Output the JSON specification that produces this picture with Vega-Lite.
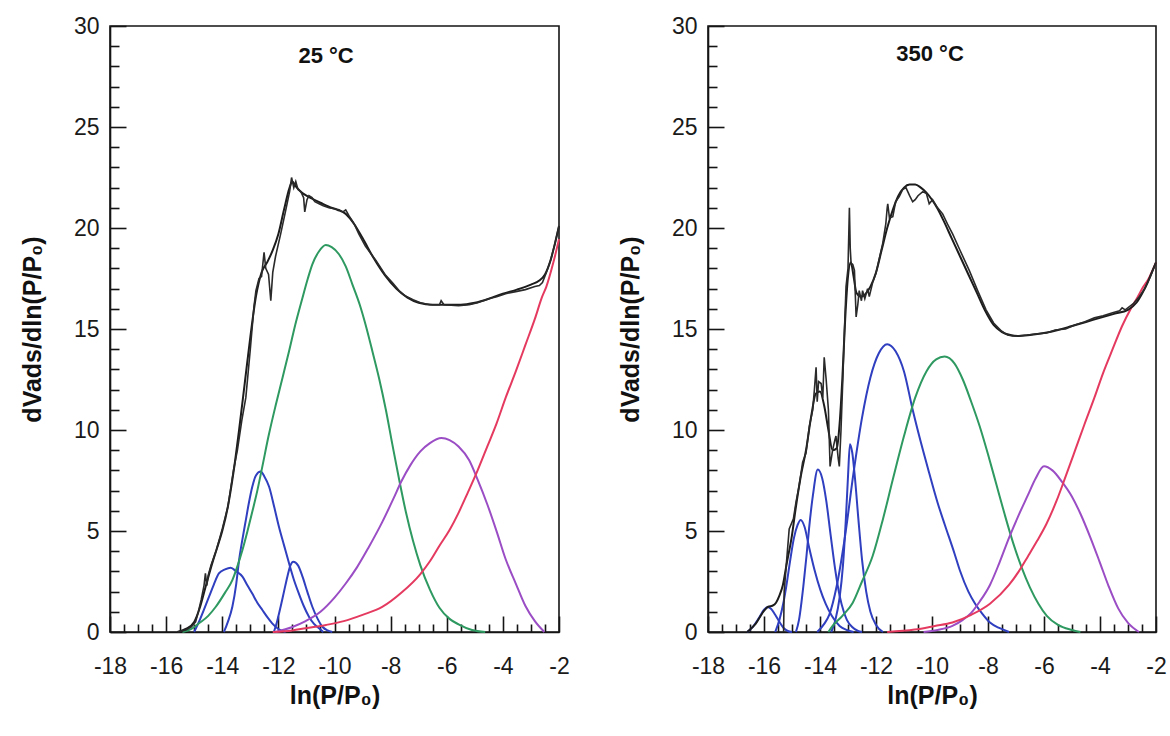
{
  "$schema": "https://vega.github.io/schema/vega-lite/v6.json",
  "background": "white",
  "padding": {"left": 19, "top": 14, "right": 5, "bottom": 5},
  "spacing": 46,
  "config": {
    "view": {"stroke": "#151515", "strokeWidth": 1.6},
    "axis": {
      "grid": false,
      "zindex": 1,
      "domainColor": "#151515",
      "domainWidth": 1.6,
      "tickColor": "#151515",
      "tickWidth": 1.6,
      "labelFont": "Liberation Sans",
      "labelFontSize": 23,
      "labelColor": "#1a1a1a",
      "titleFont": "Liberation Sans",
      "titleFontWeight": "bold",
      "titleFontSize": 25,
      "titleColor": "#111111"
    }
  },
  "hconcat": [
    {
      "width": 449,
      "height": 606,
      "resolve": {"axis": {"x": "independent", "y": "independent"}},
      "data": {"values": [
        {"s":"label","t":"25 °C","x":-10.3,"y":28.5},
        {"s":"exp","x":-15.6,"y":0},{"s":"exp","x":-15.3,"y":0.1},{"s":"exp","x":-15.1,"y":0.25},{"s":"exp","x":-14.95,"y":0.5},{"s":"exp","x":-14.85,"y":1.0},{"s":"exp","x":-14.75,"y":1.6},{"s":"exp","x":-14.65,"y":2.3},{"s":"exp","x":-14.6,"y":2.9},{"s":"exp","x":-14.55,"y":2.3},{"s":"exp","x":-14.5,"y":2.8},{"s":"exp","x":-14.4,"y":3.3},{"s":"exp","x":-14.2,"y":4.1},{"s":"exp","x":-14.0,"y":5.1},{"s":"exp","x":-13.8,"y":6.2},{"s":"exp","x":-13.6,"y":8.0},{"s":"exp","x":-13.46,"y":9.0},{"s":"exp","x":-13.3,"y":10.5},{"s":"exp","x":-13.16,"y":11.6},{"s":"exp","x":-13.0,"y":14.0},{"s":"exp","x":-12.87,"y":16.1},{"s":"exp","x":-12.8,"y":16.9},{"s":"exp","x":-12.69,"y":17.5},{"s":"exp","x":-12.6,"y":17.6},{"s":"exp","x":-12.51,"y":18.8},{"s":"exp","x":-12.45,"y":18.0},{"s":"exp","x":-12.35,"y":17.7},{"s":"exp","x":-12.27,"y":16.4},{"s":"exp","x":-12.2,"y":17.8},{"s":"exp","x":-12.1,"y":18.6},{"s":"exp","x":-11.92,"y":19.7},{"s":"exp","x":-11.75,"y":20.8},{"s":"exp","x":-11.6,"y":21.8},{"s":"exp","x":-11.53,"y":22.5},{"s":"exp","x":-11.45,"y":22.0},{"s":"exp","x":-11.38,"y":22.3},{"s":"exp","x":-11.3,"y":21.9},{"s":"exp","x":-11.2,"y":21.8},{"s":"exp","x":-11.1,"y":21.5},{"s":"exp","x":-11.06,"y":20.8},{"s":"exp","x":-10.98,"y":21.4},{"s":"exp","x":-10.91,"y":21.6},{"s":"exp","x":-10.8,"y":21.5},{"s":"exp","x":-10.7,"y":21.3},{"s":"exp","x":-10.55,"y":21.2},{"s":"exp","x":-10.4,"y":21.1},{"s":"exp","x":-10.2,"y":21.0},{"s":"exp","x":-10.0,"y":20.95},{"s":"exp","x":-9.84,"y":20.9},{"s":"exp","x":-9.7,"y":20.8},{"s":"exp","x":-9.6,"y":20.9},{"s":"exp","x":-9.48,"y":20.6},{"s":"exp","x":-9.3,"y":20.2},{"s":"exp","x":-9.13,"y":19.7},{"s":"exp","x":-8.9,"y":19.1},{"s":"exp","x":-8.53,"y":18.4},{"s":"exp","x":-8.2,"y":17.7},{"s":"exp","x":-7.94,"y":17.3},{"s":"exp","x":-7.7,"y":16.9},{"s":"exp","x":-7.49,"y":16.65},{"s":"exp","x":-7.2,"y":16.45},{"s":"exp","x":-6.94,"y":16.3},{"s":"exp","x":-6.6,"y":16.2},{"s":"exp","x":-6.26,"y":16.2},{"s":"exp","x":-6.2,"y":16.4},{"s":"exp","x":-6.1,"y":16.2},{"s":"exp","x":-5.58,"y":16.15},{"s":"exp","x":-5.2,"y":16.2},{"s":"exp","x":-4.9,"y":16.3},{"s":"exp","x":-4.5,"y":16.5},{"s":"exp","x":-4.22,"y":16.6},{"s":"exp","x":-3.9,"y":16.75},{"s":"exp","x":-3.54,"y":16.85},{"s":"exp","x":-3.2,"y":16.95},{"s":"exp","x":-2.86,"y":17.1},{"s":"exp","x":-2.7,"y":17.15},{"s":"exp","x":-2.59,"y":17.3},{"s":"exp","x":-2.45,"y":17.8},{"s":"exp","x":-2.3,"y":18.4},{"s":"exp","x":-2.15,"y":19.2},{"s":"exp","x":-2.0,"y":20.1},
        {"s":"fit","x":-15.6,"y":0},{"s":"fit","x":-15.3,"y":0.15},{"s":"fit","x":-15.0,"y":0.5},{"s":"fit","x":-14.8,"y":1.2},{"s":"fit","x":-14.6,"y":2.2},{"s":"fit","x":-14.4,"y":3.2},{"s":"fit","x":-14.2,"y":4.1},{"s":"fit","x":-14.0,"y":5.0},{"s":"fit","x":-13.8,"y":6.2},{"s":"fit","x":-13.6,"y":7.9},{"s":"fit","x":-13.4,"y":10.0},{"s":"fit","x":-13.2,"y":12.3},{"s":"fit","x":-13.0,"y":14.6},{"s":"fit","x":-12.8,"y":16.6},{"s":"fit","x":-12.6,"y":17.8},{"s":"fit","x":-12.4,"y":18.3},{"s":"fit","x":-12.2,"y":18.9},{"s":"fit","x":-12.0,"y":19.7},{"s":"fit","x":-11.8,"y":20.9},{"s":"fit","x":-11.6,"y":22.0},{"s":"fit","x":-11.5,"y":22.3},{"s":"fit","x":-11.4,"y":22.1},{"s":"fit","x":-11.2,"y":21.8},{"s":"fit","x":-11.0,"y":21.6},{"s":"fit","x":-10.8,"y":21.45},{"s":"fit","x":-10.5,"y":21.25},{"s":"fit","x":-10.2,"y":21.05},{"s":"fit","x":-9.9,"y":20.9},{"s":"fit","x":-9.6,"y":20.7},{"s":"fit","x":-9.3,"y":20.2},{"s":"fit","x":-9.0,"y":19.5},{"s":"fit","x":-8.6,"y":18.5},{"s":"fit","x":-8.2,"y":17.65},{"s":"fit","x":-7.8,"y":17.0},{"s":"fit","x":-7.4,"y":16.55},{"s":"fit","x":-7.0,"y":16.3},{"s":"fit","x":-6.5,"y":16.2},{"s":"fit","x":-6.0,"y":16.2},{"s":"fit","x":-5.5,"y":16.2},{"s":"fit","x":-5.0,"y":16.3},{"s":"fit","x":-4.5,"y":16.5},{"s":"fit","x":-4.0,"y":16.75},{"s":"fit","x":-3.5,"y":16.95},{"s":"fit","x":-3.0,"y":17.2},{"s":"fit","x":-2.7,"y":17.4},{"s":"fit","x":-2.5,"y":17.7},{"s":"fit","x":-2.3,"y":18.4},{"s":"fit","x":-2.15,"y":19.2},{"s":"fit","x":-2.0,"y":20.1},
        {"s":"b1","x":-15.0,"y":0},{"s":"b1","x":-14.8,"y":0.6},{"s":"b1","x":-14.47,"y":1.75},{"s":"b1","x":-14.3,"y":2.35},{"s":"b1","x":-14.12,"y":2.9},{"s":"b1","x":-13.9,"y":3.1},{"s":"b1","x":-13.7,"y":3.18},{"s":"b1","x":-13.5,"y":3.0},{"s":"b1","x":-13.28,"y":2.74},{"s":"b1","x":-13.1,"y":2.3},{"s":"b1","x":-12.93,"y":1.9},{"s":"b1","x":-12.75,"y":1.45},{"s":"b1","x":-12.57,"y":1.09},{"s":"b1","x":-12.4,"y":0.75},{"s":"b1","x":-12.22,"y":0.43},{"s":"b1","x":-12.0,"y":0.15},{"s":"b1","x":-11.74,"y":0},
        {"s":"b2","x":-13.94,"y":0},{"s":"b2","x":-13.8,"y":0.5},{"s":"b2","x":-13.64,"y":1.25},{"s":"b2","x":-13.5,"y":2.4},{"s":"b2","x":-13.4,"y":3.56},{"s":"b2","x":-13.28,"y":4.6},{"s":"b2","x":-13.16,"y":5.54},{"s":"b2","x":-13.05,"y":6.4},{"s":"b2","x":-12.93,"y":7.19},{"s":"b2","x":-12.8,"y":7.75},{"s":"b2","x":-12.63,"y":7.94},{"s":"b2","x":-12.5,"y":7.7},{"s":"b2","x":-12.33,"y":7.19},{"s":"b2","x":-12.15,"y":6.2},{"s":"b2","x":-11.98,"y":5.21},{"s":"b2","x":-11.8,"y":4.3},{"s":"b2","x":-11.62,"y":3.4},{"s":"b2","x":-11.45,"y":2.6},{"s":"b2","x":-11.27,"y":1.9},{"s":"b2","x":-11.1,"y":1.3},{"s":"b2","x":-10.91,"y":0.76},{"s":"b2","x":-10.73,"y":0.4},{"s":"b2","x":-10.55,"y":0.18},{"s":"b2","x":-10.4,"y":0},
        {"s":"b3","x":-12.16,"y":0},{"s":"b3","x":-12.05,"y":0.5},{"s":"b3","x":-11.92,"y":1.25},{"s":"b3","x":-11.8,"y":2.0},{"s":"b3","x":-11.68,"y":2.74},{"s":"b3","x":-11.57,"y":3.3},{"s":"b3","x":-11.47,"y":3.48},{"s":"b3","x":-11.3,"y":3.3},{"s":"b3","x":-11.14,"y":2.74},{"s":"b3","x":-10.97,"y":2.0},{"s":"b3","x":-10.79,"y":1.25},{"s":"b3","x":-10.6,"y":0.65},{"s":"b3","x":-10.43,"y":0.26},{"s":"b3","x":-10.25,"y":0.08},{"s":"b3","x":-10.08,"y":0},
        {"s":"green","x":-15.42,"y":0},{"s":"green","x":-15.1,"y":0.15},{"s":"green","x":-14.83,"y":0.43},{"s":"green","x":-14.5,"y":0.8},{"s":"green","x":-14.23,"y":1.25},{"s":"green","x":-13.9,"y":1.95},{"s":"green","x":-13.64,"y":2.57},{"s":"green","x":-13.45,"y":3.3},{"s":"green","x":-13.28,"y":4.06},{"s":"green","x":-13.1,"y":5.0},{"s":"green","x":-12.93,"y":5.95},{"s":"green","x":-12.75,"y":7.0},{"s":"green","x":-12.57,"y":8.2},{"s":"green","x":-12.35,"y":9.7},{"s":"green","x":-12.1,"y":11.2},{"s":"green","x":-11.85,"y":12.6},{"s":"green","x":-11.62,"y":13.9},{"s":"green","x":-11.4,"y":15.2},{"s":"green","x":-11.15,"y":16.5},{"s":"green","x":-10.95,"y":17.5},{"s":"green","x":-10.79,"y":18.2},{"s":"green","x":-10.55,"y":18.85},{"s":"green","x":-10.31,"y":19.16},{"s":"green","x":-10.1,"y":19.05},{"s":"green","x":-9.84,"y":18.7},{"s":"green","x":-9.6,"y":18.1},{"s":"green","x":-9.36,"y":17.2},{"s":"green","x":-9.1,"y":16.2},{"s":"green","x":-8.89,"y":15.2},{"s":"green","x":-8.65,"y":13.9},{"s":"green","x":-8.41,"y":12.55},{"s":"green","x":-8.17,"y":11.0},{"s":"green","x":-7.94,"y":9.3},{"s":"green","x":-7.69,"y":7.5},{"s":"green","x":-7.45,"y":5.9},{"s":"green","x":-7.2,"y":4.5},{"s":"green","x":-6.94,"y":3.3},{"s":"green","x":-6.6,"y":2.1},{"s":"green","x":-6.26,"y":1.2},{"s":"green","x":-5.9,"y":0.65},{"s":"green","x":-5.58,"y":0.38},{"s":"green","x":-5.1,"y":0.1},{"s":"green","x":-4.63,"y":0},
        {"s":"purple","x":-12.1,"y":0},{"s":"purple","x":-11.5,"y":0.25},{"s":"purple","x":-11.03,"y":0.54},{"s":"purple","x":-10.5,"y":1.0},{"s":"purple","x":-10.0,"y":1.7},{"s":"purple","x":-9.6,"y":2.4},{"s":"purple","x":-9.2,"y":3.2},{"s":"purple","x":-8.8,"y":4.15},{"s":"purple","x":-8.3,"y":5.44},{"s":"purple","x":-7.9,"y":6.6},{"s":"purple","x":-7.62,"y":7.45},{"s":"purple","x":-7.3,"y":8.25},{"s":"purple","x":-6.94,"y":8.94},{"s":"purple","x":-6.6,"y":9.35},{"s":"purple","x":-6.19,"y":9.6},{"s":"purple","x":-5.9,"y":9.5},{"s":"purple","x":-5.58,"y":9.18},{"s":"purple","x":-5.2,"y":8.5},{"s":"purple","x":-4.9,"y":7.54},{"s":"purple","x":-4.55,"y":6.3},{"s":"purple","x":-4.22,"y":4.97},{"s":"purple","x":-3.9,"y":3.6},{"s":"purple","x":-3.54,"y":2.4},{"s":"purple","x":-3.2,"y":1.3},{"s":"purple","x":-2.86,"y":0.54},{"s":"purple","x":-2.52,"y":0},
        {"s":"red","x":-12.2,"y":0},{"s":"red","x":-11.5,"y":0.08},{"s":"red","x":-11.03,"y":0.19},{"s":"red","x":-10.3,"y":0.35},{"s":"red","x":-9.67,"y":0.54},{"s":"red","x":-9.0,"y":0.85},{"s":"red","x":-8.3,"y":1.24},{"s":"red","x":-7.62,"y":1.94},{"s":"red","x":-6.94,"y":2.87},{"s":"red","x":-6.6,"y":3.5},{"s":"red","x":-6.26,"y":4.27},{"s":"red","x":-5.9,"y":5.05},{"s":"red","x":-5.58,"y":5.9},{"s":"red","x":-5.25,"y":6.9},{"s":"red","x":-4.9,"y":8.0},{"s":"red","x":-4.55,"y":9.2},{"s":"red","x":-4.22,"y":10.34},{"s":"red","x":-3.9,"y":11.6},{"s":"red","x":-3.54,"y":12.9},{"s":"red","x":-3.2,"y":14.2},{"s":"red","x":-2.86,"y":15.5},{"s":"red","x":-2.6,"y":16.6},{"s":"red","x":-2.45,"y":17.1},{"s":"red","x":-2.2,"y":18.3},{"s":"red","x":-2.0,"y":19.45}
      ]},
      "layer": [
        {"transform": [{"filter": "indexof(['b1','b2','b3','b4','b5','green','purple','red'], datum.s) >= 0"}],
         "mark": {"type": "line", "strokeWidth": 2, "interpolate": "monotone"},
         "encoding": {
           "x": {"field": "x", "type": "quantitative", "scale": {"domain": [-18, -2], "nice": false, "zero": false},
             "axis": {"orient": "bottom", "title": "ln(P/P₀)", "values": [-18,-16,-14,-12,-10,-8,-6,-4,-2], "labelExpr": "'-' + abs(datum.value)", "tickSize": -16, "labelPadding": 39, "titlePadding": 5, "labelFlush": false}},
           "y": {"field": "y", "type": "quantitative", "scale": {"domain": [0, 30], "nice": false},
             "axis": {"orient": "left", "title": "dVads/dln(P/P₀)", "values": [0,5,10,15,20,25,30], "tickSize": -16, "labelPadding": 27, "titlePadding": 28, "labelFlush": false}},
           "color": {"field": "s", "type": "nominal", "legend": null,
             "scale": {"domain": ["b1","b2","b3","b4","b5","green","purple","red"], "range": ["#2f3fbf","#2f3fbf","#2f3fbf","#2f3fbf","#2f3fbf","#2e9960","#9a4dc4","#e53a60"]}}}},
        {"transform": [{"filter": "datum.s === 'fit'"}],
         "mark": {"type": "line", "strokeWidth": 2, "color": "#1c1c1c", "interpolate": "monotone"},
         "encoding": {
           "x": {"field": "x", "type": "quantitative",
             "axis": {"orient": "bottom", "title": null, "labels": false, "domain": false, "values": [-17.5,-17,-16.5,-15.5,-15,-14.5,-13.5,-13,-12.5,-11.5,-11,-10.5,-9.5,-9,-8.5,-7.5,-7,-6.5,-5.5,-5,-4.5,-3.5,-3,-2.5], "tickSize": -8}},
           "y": {"field": "y", "type": "quantitative",
             "axis": {"orient": "left", "title": null, "labels": false, "domain": false, "values": [1,2,3,4,6,7,8,9,11,12,13,14,16,17,18,19,21,22,23,24,26,27,28,29], "tickSize": -9}}}},
        {"transform": [{"filter": "datum.s === 'exp'"}],
         "mark": {"type": "line", "strokeWidth": 1.6, "color": "#2a2a2a"},
         "encoding": {"x": {"field": "x", "type": "quantitative", "axis": null}, "y": {"field": "y", "type": "quantitative", "axis": null}}},
        {"transform": [{"filter": "datum.s === 'label'"}],
         "mark": {"type": "text", "font": "Liberation Sans", "fontWeight": "bold", "fontSize": 22, "color": "#111111"},
         "encoding": {"x": {"field": "x", "type": "quantitative", "axis": null}, "y": {"field": "y", "type": "quantitative", "axis": null}, "text": {"field": "t"}}}
      ]
    },
    {
      "width": 448,
      "height": 606,
      "resolve": {"axis": {"x": "independent", "y": "independent"}},
      "data": {"values": [
        {"s":"label","t":"350 °C","x":-10.07,"y":28.6},
        {"s":"exp","x":-15.3,"y":0},{"s":"exp","x":-15.28,"y":2.0},{"s":"exp","x":-15.2,"y":3.4},{"s":"exp","x":-15.1,"y":5.1},{"s":"exp","x":-14.95,"y":5.6},{"s":"exp","x":-14.86,"y":6.4},{"s":"exp","x":-14.75,"y":7.2},{"s":"exp","x":-14.62,"y":8.4},{"s":"exp","x":-14.5,"y":8.86},{"s":"exp","x":-14.38,"y":10.18},{"s":"exp","x":-14.26,"y":11.0},{"s":"exp","x":-14.2,"y":12.0},{"s":"exp","x":-14.14,"y":13.1},{"s":"exp","x":-14.1,"y":11.4},{"s":"exp","x":-14.05,"y":12.4},{"s":"exp","x":-13.96,"y":12.3},{"s":"exp","x":-13.9,"y":11.6},{"s":"exp","x":-13.85,"y":13.6},{"s":"exp","x":-13.78,"y":12.5},{"s":"exp","x":-13.7,"y":11.0},{"s":"exp","x":-13.64,"y":8.2},{"s":"exp","x":-13.55,"y":9.0},{"s":"exp","x":-13.47,"y":9.5},{"s":"exp","x":-13.43,"y":9.7},{"s":"exp","x":-13.35,"y":8.6},{"s":"exp","x":-13.31,"y":8.2},{"s":"exp","x":-13.25,"y":10.0},{"s":"exp","x":-13.19,"y":12.3},{"s":"exp","x":-13.13,"y":14.8},{"s":"exp","x":-13.07,"y":17.1},{"s":"exp","x":-13.0,"y":18.0},{"s":"exp","x":-12.95,"y":21.0},{"s":"exp","x":-12.92,"y":19.0},{"s":"exp","x":-12.89,"y":18.26},{"s":"exp","x":-12.83,"y":18.2},{"s":"exp","x":-12.77,"y":17.9},{"s":"exp","x":-12.71,"y":15.6},{"s":"exp","x":-12.65,"y":16.2},{"s":"exp","x":-12.6,"y":16.9},{"s":"exp","x":-12.52,"y":16.4},{"s":"exp","x":-12.48,"y":16.9},{"s":"exp","x":-12.4,"y":16.5},{"s":"exp","x":-12.3,"y":17.0},{"s":"exp","x":-12.24,"y":16.6},{"s":"exp","x":-12.12,"y":17.3},{"s":"exp","x":-12.0,"y":17.76},{"s":"exp","x":-11.88,"y":18.5},{"s":"exp","x":-11.76,"y":19.24},{"s":"exp","x":-11.65,"y":20.2},{"s":"exp","x":-11.6,"y":21.0},{"s":"exp","x":-11.58,"y":21.2},{"s":"exp","x":-11.52,"y":20.5},{"s":"exp","x":-11.4,"y":20.56},{"s":"exp","x":-11.3,"y":21.3},{"s":"exp","x":-11.17,"y":21.55},{"s":"exp","x":-11.05,"y":21.9},{"s":"exp","x":-10.93,"y":22.0},{"s":"exp","x":-10.8,"y":21.6},{"s":"exp","x":-10.69,"y":21.3},{"s":"exp","x":-10.6,"y":21.4},{"s":"exp","x":-10.5,"y":21.6},{"s":"exp","x":-10.33,"y":21.8},{"s":"exp","x":-10.2,"y":21.7},{"s":"exp","x":-10.1,"y":21.2},{"s":"exp","x":-9.98,"y":21.4},{"s":"exp","x":-9.8,"y":21.0},{"s":"exp","x":-9.62,"y":20.7},{"s":"exp","x":-9.45,"y":20.2},{"s":"exp","x":-9.26,"y":19.7},{"s":"exp","x":-9.0,"y":18.9},{"s":"exp","x":-8.67,"y":17.9},{"s":"exp","x":-8.37,"y":16.9},{"s":"exp","x":-8.07,"y":15.95},{"s":"exp","x":-7.8,"y":15.3},{"s":"exp","x":-7.52,"y":14.9},{"s":"exp","x":-7.3,"y":14.7},{"s":"exp","x":-7.12,"y":14.65},{"s":"exp","x":-6.98,"y":14.65},{"s":"exp","x":-6.6,"y":14.7},{"s":"exp","x":-6.3,"y":14.75},{"s":"exp","x":-5.91,"y":14.8},{"s":"exp","x":-5.6,"y":14.95},{"s":"exp","x":-5.23,"y":15.0},{"s":"exp","x":-4.9,"y":15.2},{"s":"exp","x":-4.56,"y":15.35},{"s":"exp","x":-4.2,"y":15.55},{"s":"exp","x":-3.89,"y":15.65},{"s":"exp","x":-3.55,"y":15.8},{"s":"exp","x":-3.3,"y":15.9},{"s":"exp","x":-3.21,"y":16.05},{"s":"exp","x":-3.1,"y":15.95},{"s":"exp","x":-2.81,"y":16.25},{"s":"exp","x":-2.6,"y":16.6},{"s":"exp","x":-2.4,"y":17.0},{"s":"exp","x":-2.2,"y":17.6},{"s":"exp","x":-2.0,"y":18.3},
        {"s":"fit","x":-16.6,"y":0},{"s":"fit","x":-16.3,"y":0.4},{"s":"fit","x":-16.0,"y":1.05},{"s":"fit","x":-15.85,"y":1.25},{"s":"fit","x":-15.7,"y":1.3},{"s":"fit","x":-15.57,"y":1.45},{"s":"fit","x":-15.45,"y":1.8},{"s":"fit","x":-15.33,"y":2.3},{"s":"fit","x":-15.2,"y":3.3},{"s":"fit","x":-15.0,"y":4.8},{"s":"fit","x":-14.86,"y":6.2},{"s":"fit","x":-14.7,"y":7.6},{"s":"fit","x":-14.5,"y":9.0},{"s":"fit","x":-14.3,"y":10.8},{"s":"fit","x":-14.15,"y":11.8},{"s":"fit","x":-14.0,"y":11.9},{"s":"fit","x":-13.85,"y":11.2},{"s":"fit","x":-13.7,"y":10.0},{"s":"fit","x":-13.55,"y":9.0},{"s":"fit","x":-13.4,"y":9.1},{"s":"fit","x":-13.3,"y":10.3},{"s":"fit","x":-13.2,"y":12.6},{"s":"fit","x":-13.1,"y":15.5},{"s":"fit","x":-13.0,"y":17.6},{"s":"fit","x":-12.9,"y":18.3},{"s":"fit","x":-12.8,"y":17.6},{"s":"fit","x":-12.7,"y":16.8},{"s":"fit","x":-12.55,"y":16.6},{"s":"fit","x":-12.4,"y":16.7},{"s":"fit","x":-12.2,"y":17.1},{"s":"fit","x":-12.0,"y":17.8},{"s":"fit","x":-11.8,"y":18.9},{"s":"fit","x":-11.6,"y":20.0},{"s":"fit","x":-11.4,"y":20.9},{"s":"fit","x":-11.2,"y":21.6},{"s":"fit","x":-11.0,"y":22.0},{"s":"fit","x":-10.8,"y":22.15},{"s":"fit","x":-10.6,"y":22.15},{"s":"fit","x":-10.4,"y":22.0},{"s":"fit","x":-10.2,"y":21.75},{"s":"fit","x":-10.0,"y":21.4},{"s":"fit","x":-9.8,"y":20.95},{"s":"fit","x":-9.6,"y":20.4},{"s":"fit","x":-9.3,"y":19.5},{"s":"fit","x":-9.0,"y":18.6},{"s":"fit","x":-8.7,"y":17.7},{"s":"fit","x":-8.4,"y":16.8},{"s":"fit","x":-8.1,"y":15.9},{"s":"fit","x":-7.8,"y":15.2},{"s":"fit","x":-7.5,"y":14.85},{"s":"fit","x":-7.2,"y":14.7},{"s":"fit","x":-6.9,"y":14.65},{"s":"fit","x":-6.5,"y":14.7},{"s":"fit","x":-6.0,"y":14.8},{"s":"fit","x":-5.5,"y":14.95},{"s":"fit","x":-5.0,"y":15.15},{"s":"fit","x":-4.5,"y":15.35},{"s":"fit","x":-4.0,"y":15.55},{"s":"fit","x":-3.5,"y":15.75},{"s":"fit","x":-3.0,"y":15.95},{"s":"fit","x":-2.7,"y":16.3},{"s":"fit","x":-2.5,"y":16.75},{"s":"fit","x":-2.3,"y":17.3},{"s":"fit","x":-2.15,"y":17.8},{"s":"fit","x":-2.0,"y":18.3},
        {"s":"b1","x":-16.6,"y":0},{"s":"b1","x":-16.4,"y":0.25},{"s":"b1","x":-16.2,"y":0.65},{"s":"b1","x":-16.0,"y":1.1},{"s":"b1","x":-15.87,"y":1.24},{"s":"b1","x":-15.75,"y":1.15},{"s":"b1","x":-15.6,"y":0.85},{"s":"b1","x":-15.45,"y":0.5},{"s":"b1","x":-15.3,"y":0.2},{"s":"b1","x":-15.15,"y":0.05},{"s":"b1","x":-15.0,"y":0},
        {"s":"b2","x":-15.6,"y":0},{"s":"b2","x":-15.45,"y":0.6},{"s":"b2","x":-15.3,"y":1.5},{"s":"b2","x":-15.2,"y":2.3},{"s":"b2","x":-15.07,"y":3.5},{"s":"b2","x":-14.93,"y":4.66},{"s":"b2","x":-14.8,"y":5.3},{"s":"b2","x":-14.69,"y":5.55},{"s":"b2","x":-14.55,"y":5.2},{"s":"b2","x":-14.39,"y":4.2},{"s":"b2","x":-14.2,"y":3.1},{"s":"b2","x":-13.99,"y":2.1},{"s":"b2","x":-13.8,"y":1.4},{"s":"b2","x":-13.58,"y":0.8},{"s":"b2","x":-13.3,"y":0.3},{"s":"b2","x":-13.04,"y":0.1},{"s":"b2","x":-12.8,"y":0},
        {"s":"b3","x":-14.86,"y":0},{"s":"b3","x":-14.75,"y":0.6},{"s":"b3","x":-14.59,"y":2.33},{"s":"b3","x":-14.48,"y":3.8},{"s":"b3","x":-14.39,"y":5.13},{"s":"b3","x":-14.25,"y":6.8},{"s":"b3","x":-14.08,"y":8.04},{"s":"b3","x":-13.92,"y":7.6},{"s":"b3","x":-13.78,"y":6.53},{"s":"b3","x":-13.62,"y":4.8},{"s":"b3","x":-13.45,"y":3.03},{"s":"b3","x":-13.3,"y":1.8},{"s":"b3","x":-13.15,"y":1.0},{"s":"b3","x":-13.04,"y":0.6},{"s":"b3","x":-12.85,"y":0.25},{"s":"b3","x":-12.64,"y":0.05},{"s":"b3","x":-12.5,"y":0},
        {"s":"b4","x":-13.6,"y":0},{"s":"b4","x":-13.45,"y":0.6},{"s":"b4","x":-13.3,"y":1.7},{"s":"b4","x":-13.18,"y":3.3},{"s":"b4","x":-13.08,"y":5.5},{"s":"b4","x":-13.0,"y":7.7},{"s":"b4","x":-12.93,"y":9.3},{"s":"b4","x":-12.85,"y":8.9},{"s":"b4","x":-12.75,"y":7.6},{"s":"b4","x":-12.63,"y":5.6},{"s":"b4","x":-12.5,"y":3.6},{"s":"b4","x":-12.35,"y":2.0},{"s":"b4","x":-12.2,"y":1.0},{"s":"b4","x":-12.0,"y":0.35},{"s":"b4","x":-11.75,"y":0},
        {"s":"b5","x":-14.1,"y":0},{"s":"b5","x":-13.85,"y":0.4},{"s":"b5","x":-13.67,"y":0.85},{"s":"b5","x":-13.4,"y":2.3},{"s":"b5","x":-13.1,"y":4.8},{"s":"b5","x":-12.8,"y":7.9},{"s":"b5","x":-12.5,"y":10.6},{"s":"b5","x":-12.2,"y":12.6},{"s":"b5","x":-11.9,"y":13.8},{"s":"b5","x":-11.6,"y":14.25},{"s":"b5","x":-11.3,"y":13.9},{"s":"b5","x":-11.0,"y":12.9},{"s":"b5","x":-10.69,"y":11.0},{"s":"b5","x":-10.4,"y":9.4},{"s":"b5","x":-10.1,"y":7.87},{"s":"b5","x":-9.8,"y":6.4},{"s":"b5","x":-9.54,"y":5.3},{"s":"b5","x":-9.2,"y":3.9},{"s":"b5","x":-9.0,"y":3.03},{"s":"b5","x":-8.7,"y":2.0},{"s":"b5","x":-8.46,"y":1.4},{"s":"b5","x":-8.2,"y":0.9},{"s":"b5","x":-7.93,"y":0.47},{"s":"b5","x":-7.6,"y":0.2},{"s":"b5","x":-7.25,"y":0},
        {"s":"green","x":-13.7,"y":0},{"s":"green","x":-13.55,"y":0.3},{"s":"green","x":-13.2,"y":0.8},{"s":"green","x":-12.83,"y":1.45},{"s":"green","x":-12.5,"y":2.5},{"s":"green","x":-12.12,"y":3.76},{"s":"green","x":-11.75,"y":5.6},{"s":"green","x":-11.4,"y":7.55},{"s":"green","x":-11.0,"y":9.7},{"s":"green","x":-10.6,"y":11.6},{"s":"green","x":-10.2,"y":12.9},{"s":"green","x":-9.85,"y":13.5},{"s":"green","x":-9.55,"y":13.64},{"s":"green","x":-9.2,"y":13.3},{"s":"green","x":-8.9,"y":12.5},{"s":"green","x":-8.6,"y":11.4},{"s":"green","x":-8.3,"y":10.2},{"s":"green","x":-8.0,"y":8.8},{"s":"green","x":-7.7,"y":7.3},{"s":"green","x":-7.4,"y":5.8},{"s":"green","x":-7.1,"y":4.4},{"s":"green","x":-6.8,"y":3.2},{"s":"green","x":-6.5,"y":2.2},{"s":"green","x":-6.2,"y":1.4},{"s":"green","x":-5.9,"y":0.8},{"s":"green","x":-5.5,"y":0.35},{"s":"green","x":-5.0,"y":0.1},{"s":"green","x":-4.7,"y":0},
        {"s":"purple","x":-10.3,"y":0},{"s":"purple","x":-9.8,"y":0.1},{"s":"purple","x":-9.27,"y":0.3},{"s":"purple","x":-8.9,"y":0.6},{"s":"purple","x":-8.6,"y":0.95},{"s":"purple","x":-8.3,"y":1.5},{"s":"purple","x":-7.93,"y":2.33},{"s":"purple","x":-7.6,"y":3.4},{"s":"purple","x":-7.25,"y":4.66},{"s":"purple","x":-6.9,"y":5.8},{"s":"purple","x":-6.58,"y":6.76},{"s":"purple","x":-6.3,"y":7.6},{"s":"purple","x":-6.0,"y":8.2},{"s":"purple","x":-5.7,"y":8.0},{"s":"purple","x":-5.37,"y":7.46},{"s":"purple","x":-5.0,"y":6.7},{"s":"purple","x":-4.69,"y":5.83},{"s":"purple","x":-4.35,"y":4.7},{"s":"purple","x":-4.02,"y":3.5},{"s":"purple","x":-3.7,"y":2.3},{"s":"purple","x":-3.35,"y":1.17},{"s":"purple","x":-3.0,"y":0.45},{"s":"purple","x":-2.61,"y":0},
        {"s":"red","x":-11.6,"y":0},{"s":"red","x":-10.62,"y":0.12},{"s":"red","x":-9.9,"y":0.3},{"s":"red","x":-9.27,"y":0.47},{"s":"red","x":-8.6,"y":0.85},{"s":"red","x":-7.93,"y":1.4},{"s":"red","x":-7.25,"y":2.33},{"s":"red","x":-6.9,"y":3.0},{"s":"red","x":-6.58,"y":3.73},{"s":"red","x":-6.25,"y":4.5},{"s":"red","x":-5.91,"y":5.36},{"s":"red","x":-5.55,"y":6.5},{"s":"red","x":-5.23,"y":7.69},{"s":"red","x":-4.9,"y":8.95},{"s":"red","x":-4.56,"y":10.26},{"s":"red","x":-4.2,"y":11.6},{"s":"red","x":-3.89,"y":12.82},{"s":"red","x":-3.55,"y":14.0},{"s":"red","x":-3.21,"y":15.15},{"s":"red","x":-2.9,"y":16.0},{"s":"red","x":-2.67,"y":16.55},{"s":"red","x":-2.45,"y":17.1},{"s":"red","x":-2.27,"y":17.48},{"s":"red","x":-2.0,"y":18.3}
      ]},
      "layer": [
        {"transform": [{"filter": "indexof(['b1','b2','b3','b4','b5','green','purple','red'], datum.s) >= 0"}],
         "mark": {"type": "line", "strokeWidth": 2, "interpolate": "monotone"},
         "encoding": {
           "x": {"field": "x", "type": "quantitative", "scale": {"domain": [-18, -2], "nice": false, "zero": false},
             "axis": {"orient": "bottom", "title": "ln(P/P₀)", "values": [-18,-16,-14,-12,-10,-8,-6,-4,-2], "labelExpr": "'-' + abs(datum.value)", "tickSize": -16, "labelPadding": 39, "titlePadding": 5, "labelFlush": false}},
           "y": {"field": "y", "type": "quantitative", "scale": {"domain": [0, 30], "nice": false},
             "axis": {"orient": "left", "title": "dVads/dln(P/P₀)", "values": [0,5,10,15,20,25,30], "tickSize": -16, "labelPadding": 27, "titlePadding": 28, "labelFlush": false}},
           "color": {"field": "s", "type": "nominal", "legend": null,
             "scale": {"domain": ["b1","b2","b3","b4","b5","green","purple","red"], "range": ["#2f3fbf","#2f3fbf","#2f3fbf","#2f3fbf","#2f3fbf","#2e9960","#9a4dc4","#e53a60"]}}}},
        {"transform": [{"filter": "datum.s === 'fit'"}],
         "mark": {"type": "line", "strokeWidth": 2, "color": "#1c1c1c", "interpolate": "monotone"},
         "encoding": {
           "x": {"field": "x", "type": "quantitative",
             "axis": {"orient": "bottom", "title": null, "labels": false, "domain": false, "values": [-17.5,-17,-16.5,-15.5,-15,-14.5,-13.5,-13,-12.5,-11.5,-11,-10.5,-9.5,-9,-8.5,-7.5,-7,-6.5,-5.5,-5,-4.5,-3.5,-3,-2.5], "tickSize": -8}},
           "y": {"field": "y", "type": "quantitative",
             "axis": {"orient": "left", "title": null, "labels": false, "domain": false, "values": [1,2,3,4,6,7,8,9,11,12,13,14,16,17,18,19,21,22,23,24,26,27,28,29], "tickSize": -9}}}},
        {"transform": [{"filter": "datum.s === 'exp'"}],
         "mark": {"type": "line", "strokeWidth": 1.6, "color": "#2a2a2a"},
         "encoding": {"x": {"field": "x", "type": "quantitative", "axis": null}, "y": {"field": "y", "type": "quantitative", "axis": null}}},
        {"transform": [{"filter": "datum.s === 'label'"}],
         "mark": {"type": "text", "font": "Liberation Sans", "fontWeight": "bold", "fontSize": 22, "color": "#111111"},
         "encoding": {"x": {"field": "x", "type": "quantitative", "axis": null}, "y": {"field": "y", "type": "quantitative", "axis": null}, "text": {"field": "t"}}}
      ]
    }
  ]
}
